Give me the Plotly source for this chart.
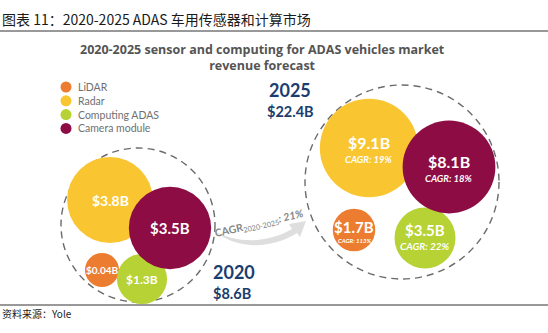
import math
import plotly.graph_objects as go

# ---- data -------------------------------------------------------------
categories = ["LiDAR", "Radar", "Computing ADAS", "Camera module"]
revenue_2020 = [0.04, 3.8, 1.3, 3.5]      # $B
revenue_2025 = [1.7, 9.1, 3.5, 8.1]       # $B
cagr_2020_2025 = [113, 19, 22, 18]        # %
total_2020 = 8.6
total_2025 = 22.4
total_cagr = 21

# ---- styling / layout -------------------------------------------------
colors = ["#EC7D30", "#F9C631", "#B6D234", "#8C0C43"]
navy = "#1B3D6E"
W, H = 548, 333

# bubble centres (pixel space) for each year's cluster
centers_2020 = [(102, 270), (110, 200), (142, 279), (170, 228)]
centers_2025 = [(354, 230), (369, 148), (425, 238), (449, 167)]
scale_2020, scale_2025, min_radius = 22.0, 16.3, 17.0


def radius(value, scale):
    return max(scale * math.sqrt(value), min_radius)


fig = go.Figure()

# cluster outlines
for (cx, cy, r) in [(138, 225, 77), (402, 182, 97)]:
    fig.add_shape(type="circle", x0=cx - r, x1=cx + r, y0=cy - r, y1=cy + r,
                  line=dict(color="#6b6b6b", width=1.4, dash="7px,5px"),
                  layer="below")

# bubbles: one trace per category, one point per year
for i, cat in enumerate(categories):
    xs = [centers_2020[i][0], centers_2025[i][0]]
    ys = [centers_2020[i][1], centers_2025[i][1]]
    sizes = [2 * radius(revenue_2020[i], scale_2020),
             2 * radius(revenue_2025[i], scale_2025)]
    fig.add_trace(go.Scatter(
        x=xs, y=ys, mode="markers", name=cat, showlegend=False,
        marker=dict(size=sizes, sizemode="diameter", color=colors[i],
                    opacity=1, line=dict(width=0)),
        hoverinfo="skip"))

# value labels
label_font = "Lato, 'Open Sans', sans-serif"
size_2020 = [10, 14, 12, 15]
for i in range(4):
    cx, cy = centers_2020[i]
    fig.add_annotation(x=cx, y=cy, text=f"<b>${revenue_2020[i]:g}B</b>",
                       showarrow=False,
                       font=dict(family=label_font, size=size_2020[i], color="white"))

size_2025 = [15, 16, 15, 16]
cagr_size = [6, 9.5, 10, 9.5]
val_off = [-3, -6, -8, -6]
cagr_off = [10, 11, 8, 11]
for i in range(4):
    cx, cy = centers_2025[i]
    fig.add_annotation(x=cx, y=cy + val_off[i], text=f"<b>${revenue_2025[i]:g}B</b>",
                       showarrow=False,
                       font=dict(family=label_font, size=size_2025[i], color="white"))
    fig.add_annotation(x=cx, y=cy + cagr_off[i],
                       text=f"<b><i>CAGR: {cagr_2020_2025[i]}%</i></b>",
                       showarrow=False,
                       font=dict(family=label_font, size=cagr_size[i], color="white"))

# year totals
fig.add_annotation(x=234, y=272, text="<b>2020</b>", showarrow=False,
                   font=dict(family=label_font, size=18, color=navy))
fig.add_annotation(x=232, y=293, text=f"<b>${total_2020:g}B</b>", showarrow=False,
                   font=dict(family=label_font, size=14.5, color=navy))
fig.add_annotation(x=290, y=90, text="<b>2025</b>", showarrow=False,
                   font=dict(family=label_font, size=18, color=navy))
fig.add_annotation(x=290, y=111, text=f"<b>${total_2025:g}B</b>", showarrow=False,
                   font=dict(family=label_font, size=14.5, color=navy))

# growth arrow between the clusters
fig.add_shape(type="path",
              path="M 214,231 C 240,245 270,242 292,229 L 289,224 L 306,221 "
                   "L 300,237 L 297,233 C 272,249 238,250 214,231 Z",
              fillcolor="#dedede", line=dict(width=0), layer="below")
fig.add_annotation(x=259, y=224, textangle=-13, showarrow=False,
                   text=(f"<b>CAGR</b><sub>2020-2025</sub>"
                         f"<b><i>: {total_cagr}%</i></b>"),
                   font=dict(family=label_font, size=10.5, color="#858585"))

# legend
for i, cat in enumerate(categories):
    ly = 87 + i * 13.8
    fig.add_trace(go.Scatter(x=[66], y=[ly], mode="markers", showlegend=False,
                             marker=dict(size=11, color=colors[i]), hoverinfo="skip"))
    fig.add_annotation(x=76, y=ly, text=cat, xanchor="left", showarrow=False,
                       font=dict(family=label_font, size=10.5, color="#707070"))

# headings
fig.add_annotation(x=0, y=19, xanchor="left", showarrow=False,
                   text="图表 11：2020-2025 ADAS 车用传感器和计算市场",
                   font=dict(family="'Noto Sans CJK SC', sans-serif", size=14, color="#1a1a1a"))
fig.add_annotation(x=262, y=57, showarrow=False,
                   text="<b>2020-2025 sensor and computing for ADAS vehicles market</b>"
                        "<br><b>revenue forecast</b>",
                   font=dict(family="'Open Sans', sans-serif", size=12.5, color="#545454"))
fig.add_annotation(x=0, y=313, xanchor="left", showarrow=False,
                   text="资料来源：Yole",
                   font=dict(family="'Noto Sans CJK SC', sans-serif", size=10, color="#1a1a1a"))
for yl in (31, 305):
    fig.add_shape(type="line", x0=0, x1=W, y0=yl, y1=yl,
                  line=dict(color="#333333", width=1))

fig.update_layout(
    width=W, height=H, margin=dict(l=0, r=0, t=0, b=0),
    paper_bgcolor="white", plot_bgcolor="white", showlegend=False,
    xaxis=dict(range=[0, W], visible=False, fixedrange=True),
    yaxis=dict(range=[H, 0], visible=False, fixedrange=True),
)

fig.write_html("out.html", config={"displayModeBar": False})
